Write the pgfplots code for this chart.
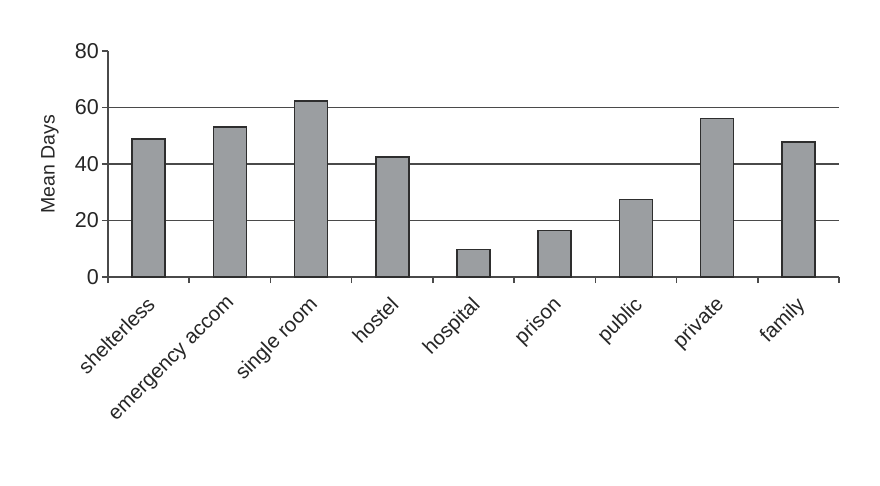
\documentclass[border=0pt]{standalone}
\usepackage{fontspec}
\setmainfont{Liberation Sans}
\usepackage{pgfplots}
\pgfplotsset{compat=1.18}

\definecolor{barfill}{HTML}{9B9EA1}
\definecolor{baredge}{HTML}{2E2E2E}
\definecolor{gridcol}{HTML}{4A4A4A}

\begin{document}
\begin{tikzpicture}
% page frame: 880 x 486, axis box lower-left at (108,277) px
\fill[white] (-108bp,-209bp) rectangle (772bp,277bp);
\useasboundingbox (-108bp,-209bp) rectangle (772bp,277bp);
\begin{axis}[
    scale only axis,
    width=731bp, height=226bp,
    at={(0,0)}, anchor=south west,
    ymin=0, ymax=80,
    xmin=-0.5, xmax=8.5,
    axis x line*=bottom,
    axis y line*=left,
    axis line style={gridcol, line width=1.6bp},
    ytick={0,20,40,60,80},
    extra y ticks={20,40,60},
    extra y tick labels={},
    extra y tick style={grid=major, major tick length=0pt},
    grid style={gridcol, line width=1.6bp},
    xtick={0,...,8},
    xticklabels={shelterless,emergency accom,single room,hostel,hospital,prison,public,private,family},
    minor xtick={-0.5,0.5,...,8.5},
    major x tick style={draw=none},
    minor x tick style={gridcol, line width=1.6bp},
    minor tick length=6bp,
    major tick length=6bp,
    tick align=outside,
    ytick style={gridcol, line width=1.6bp},
    /pgf/number format/assume math mode=true,
    yticklabel style={font=\fontsize{21.5bp}{26bp}\selectfont, text=black!85, inner sep=1bp, xshift=-2bp},
    xticklabel style={font=\fontsize{20.5bp}{25bp}\selectfont, text=black!85,
        xshift=-3bp, yshift=-12bp, rotate=45, anchor=north east, inner sep=0pt},
    ylabel={Mean Days},
    ylabel style={font=\fontsize{19.5bp}{23bp}\selectfont, text=black!85,
        at={(axis description cs:-0.0793,0.5)}, anchor=center},
    ybar, bar width=33bp,
]
\addplot[fill=barfill, draw=baredge, line width=1.6bp] coordinates {
    (0,48.8) (1,53.0) (2,62.2) (3,42.4) (4,9.8)
    (5,16.5) (6,27.5) (7,56.1) (8,47.7)
};
\end{axis}
\end{tikzpicture}
\end{document}
